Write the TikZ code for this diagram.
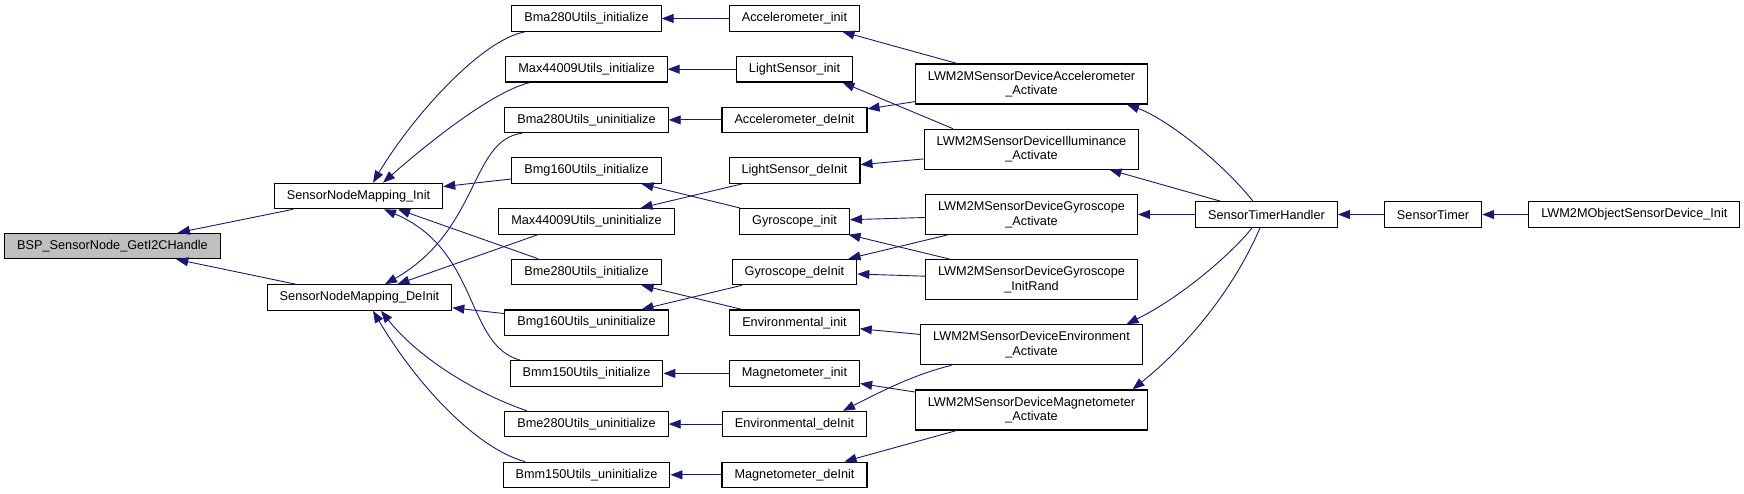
\documentclass[tikz,border=0pt]{standalone}
\usepackage{fontspec}
\setmainfont{Liberation Sans}
\usepackage{tikz}
\usetikzlibrary{arrows.meta,positioning}
\definecolor{callblue}{RGB}{25,25,112}

\begin{document}
\begin{tikzpicture}[x=1pt, y=-1pt, >={Triangle[length=12pt,width=9pt]},
  fn/.style={draw=black, line width=1.1pt, fill=white, align=center, inner xsep=12.5pt, inner ysep=2pt,
    minimum height=25.5pt, font=\fontsize{12.7}{14.6}\selectfont},
  fn2/.style={fn, minimum height=40pt},
  root/.style={fn, fill=black!25},
  call/.style={->, draw=callblue, line width=0.9pt}]
\useasboundingbox (0,0) rectangle (1744,493);
% function and its two callers
\node[root] (bsp) at (112.5,246) {BSP\_SensorNode\_GetI2CHandle};
\node[fn] (init) at (358.5,196) {SensorNodeMapping\_Init};
\node[fn] (deinit) at (359.5,297.5) {SensorNodeMapping\_DeInit};
% sensor utils
\node[fn] (bmaInit) at (586.5,18.5) {Bma280Utils\_initialize};
\node[fn, below=24.1pt of bmaInit] (maxInit) {Max44009Utils\_initialize};
\node[fn, below=24.1pt of maxInit] (bmaUninit) {Bma280Utils\_uninitialize};
\node[fn, below=24.1pt of bmaUninit] (bmgInit) {Bmg160Utils\_initialize};
\node[fn, below=24.1pt of bmgInit] (maxUninit) {Max44009Utils\_uninitialize};
\node[fn, below=24.1pt of maxUninit] (bmeInit) {Bme280Utils\_initialize};
\node[fn, below=24.1pt of bmeInit] (bmgUninit) {Bmg160Utils\_uninitialize};
\node[fn, below=24.1pt of bmgUninit] (bmmInit) {Bmm150Utils\_initialize};
\node[fn, below=24.1pt of bmmInit] (bmeUninit) {Bme280Utils\_uninitialize};
\node[fn, below=24.1pt of bmeUninit] (bmmUninit) {Bmm150Utils\_uninitialize};
% sensor init / deinit
\node[fn] (accInit) at (794.5,18.5) {Accelerometer\_init};
\node[fn, below=24.1pt of accInit] (lightInit) {LightSensor\_init};
\node[fn, below=24.1pt of lightInit] (accDeinit) {Accelerometer\_deInit};
\node[fn, below=24.1pt of accDeinit] (lightDeinit) {LightSensor\_deInit};
\node[fn, below=24.1pt of lightDeinit] (gyroInit) {Gyroscope\_init};
\node[fn, below=24.1pt of gyroInit] (gyroDeinit) {Gyroscope\_deInit};
\node[fn, below=24.1pt of gyroDeinit] (envInit) {Environmental\_init};
\node[fn, below=24.1pt of envInit] (magInit) {Magnetometer\_init};
\node[fn, below=24.1pt of magInit] (envDeinit) {Environmental\_deInit};
\node[fn, below=24.1pt of envDeinit] (magDeinit) {Magnetometer\_deInit};
% LWM2M activate
\node[fn2] (accAct) at (1031.5,84) {LWM2MSensorDeviceAccelerometer\\\_Activate};
\node[fn2, below=24.1pt of accAct] (illAct) {LWM2MSensorDeviceIlluminance\\\_Activate};
\node[fn2, below=24.1pt of illAct] (gyroAct) {LWM2MSensorDeviceGyroscope\\\_Activate};
\node[fn2, below=24.1pt of gyroAct] (gyroRand) {LWM2MSensorDeviceGyroscope\\\_InitRand};
\node[fn2, below=24.1pt of gyroRand] (envAct) {LWM2MSensorDeviceEnvironment\\\_Activate};
\node[fn2, below=24.1pt of envAct] (magAct) {LWM2MSensorDeviceMagnetometer\\\_Activate};
% timer chain
\node[fn] (handler) at (1266.5,214.5) {SensorTimerHandler};
\node[fn, right=46pt of handler] (timer) {SensorTimer};
\node[fn, right=46pt of timer] (objInit) {LWM2MObjectSensorDevice\_Init};
% into the root
\draw[call] (init) -- (bsp);
\draw[call] (deinit) -- (bsp);
% into SensorNodeMapping_Init
\draw[call] ([xshift=-61.5pt]bmaInit.south) .. controls (480,40) and (410,120) .. ([xshift=14.5pt]init.north);
\draw[call] ([xshift=-56.5pt]maxInit.south) .. controls (490,92) and (420,150) .. ([xshift=24.5pt]init.north);
\draw[call] (bmgInit) -- (init);
\draw[call] ([xshift=-48.5pt]bmeInit.north) -- ([xshift=39.5pt]init.south);
\draw[call] ([xshift=-66.5pt]bmmInit.north) .. controls (465,345) and (480,250) .. ([xshift=25.5pt]init.south);
% into SensorNodeMapping_DeInit
\draw[call] ([xshift=-64.5pt]bmaUninit.south) .. controls (470,140) and (480,230) .. ([xshift=25.5pt]deinit.north);
\draw[call] ([xshift=-48.5pt]maxUninit.south) -- ([xshift=38pt]deinit.north);
\draw[call] (bmgUninit) -- (deinit);
\draw[call] ([xshift=-59.5pt]bmeUninit.north) .. controls (480,395) and (420,360) .. ([xshift=21.5pt]deinit.south);
\draw[call] ([xshift=-61.5pt]bmmUninit.north) .. controls (480,450) and (420,390) .. ([xshift=13.5pt]deinit.south);
% into the utils
\draw[call] (accInit) -- (bmaInit);
\draw[call] (lightInit) -- (maxInit);
\draw[call] (accDeinit) -- (bmaUninit);
\draw[call] ([xshift=-52.5pt]lightDeinit.south) -- ([xshift=54pt]maxUninit.north);
\draw[call] ([xshift=-54.5pt]gyroInit.north) -- ([xshift=55pt]bmgInit.south);
\draw[call] ([xshift=-52.5pt]gyroDeinit.south) -- ([xshift=55pt]bmgUninit.north);
\draw[call] ([xshift=-52.5pt]envInit.north) -- ([xshift=55pt]bmeInit.south);
\draw[call] (magInit) -- (bmmInit);
\draw[call] (envDeinit) -- (bmeUninit);
\draw[call] (magDeinit) -- (bmmUninit);
% into the sensor init / deinit
\draw[call] ([xshift=-74.5pt]accAct.north) -- ([xshift=48pt]accInit.south);
\draw[call] (accAct) -- (accDeinit);
\draw[call] ([xshift=-78.5pt]illAct.north) -- ([xshift=48pt]lightInit.south);
\draw[call] (illAct) -- (lightDeinit);
\draw[call] (gyroAct) -- (gyroInit);
\draw[call] ([xshift=-84pt]gyroAct.south) -- ([xshift=54pt]gyroDeinit.north);
\draw[call] ([xshift=-82pt]gyroRand.north) -- ([xshift=54pt]gyroInit.south);
\draw[call] (gyroRand) -- (gyroDeinit);
\draw[call] (envAct) -- (envInit);
\draw[call] ([xshift=-80pt]envAct.south) .. controls (915,374) and (880,392) .. ([xshift=48.5pt]envDeinit.north);
\draw[call] (magAct) -- (magInit);
\draw[call] ([xshift=-75pt]magAct.south) -- ([xshift=50pt]magDeinit.north);
% from the timer handler
\draw[call] ([xshift=-13.5pt]handler.north) .. controls (1220,160) and (1165,118) .. ([xshift=95.5pt]accAct.south);
\draw[call] ([xshift=-46pt]handler.north) -- ([xshift=78pt]illAct.south);
\draw[call] (handler) -- (gyroAct);
\draw[call] ([xshift=-14.5pt]handler.south) .. controls (1235,250) and (1185,295) .. ([xshift=95pt]envAct.north);
\draw[call] ([xshift=-6.5pt]handler.south) .. controls (1240,275) and (1200,335) .. ([xshift=101pt]magAct.north);
\draw[call] (timer) -- (handler);
\draw[call] (objInit) -- (timer);
\end{tikzpicture}
\end{document}
